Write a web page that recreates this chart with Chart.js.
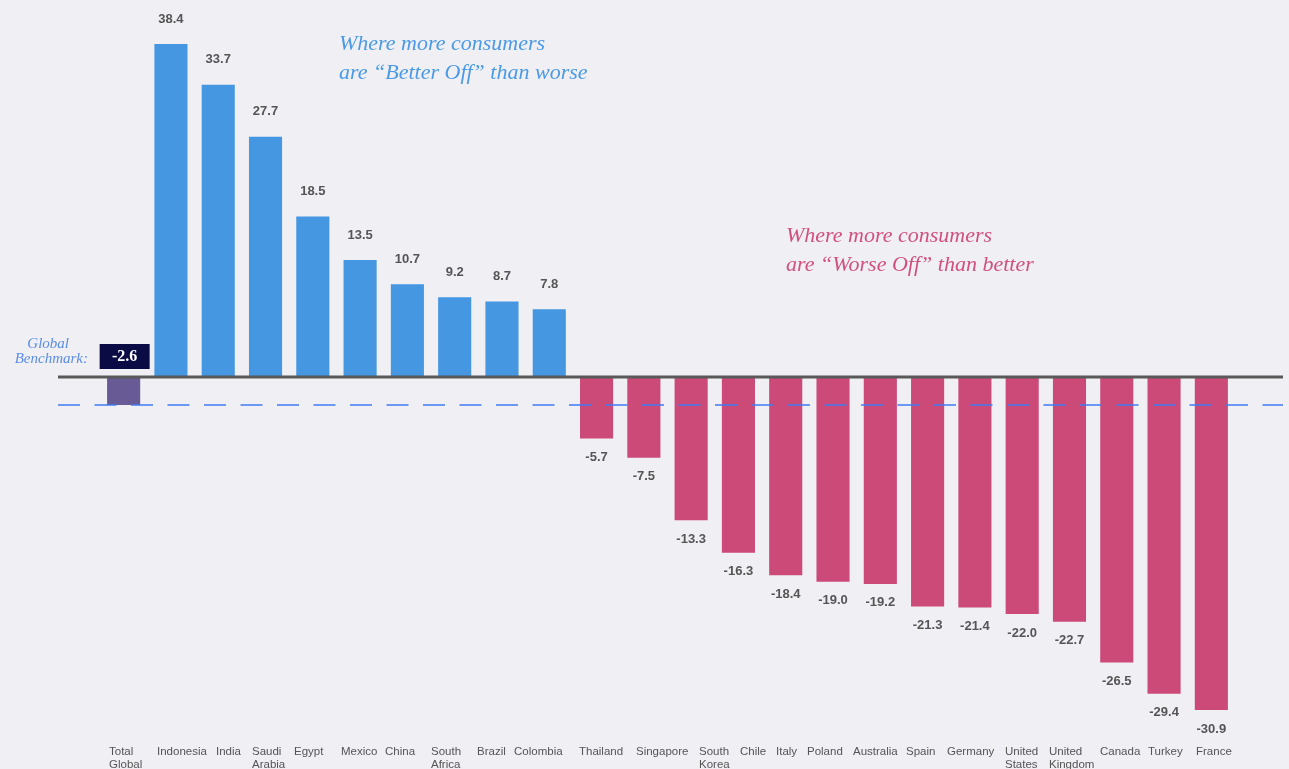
<!DOCTYPE html>
<html>
<head>
<meta charset="utf-8">
<script src="https://cdn.jsdelivr.net/npm/chart.js@4.4.1/dist/chart.umd.min.js"></script>
<style>
  html, body { margin: 0; padding: 0; background: #efeff4; }
  #wrap { width: 1289px; height: 769px; }
</style>
</head>
<body>
<div id="wrap"><canvas id="myChart" width="1289" height="769"></canvas></div>
<script>
// categories, in the order they appear left to right
const globalLabel = ['Total', 'Global'];
const betterOffCountries = ['Indonesia', 'India', ['Saudi', 'Arabia'], 'Egypt', 'Mexico', 'China',
  ['South', 'Africa'], 'Brazil', 'Colombia'];
const worseOffCountries = ['Thailand', 'Singapore', ['South', 'Korea'], 'Chile', 'Italy', 'Poland',
  'Australia', 'Spain', 'Germany', ['United', 'States'], ['United', 'Kingdom'], 'Canada', 'Turkey', 'France'];

// net scores
const globalBenchmark = -2.6;
const betterOffValues = [38.4, 33.7, 27.7, 18.5, 13.5, 10.7, 9.2, 8.7, 7.8];
const worseOffValues = [-5.7, -7.5, -13.3, -16.3, -18.4, -19.0, -19.2, -21.3, -21.4, -22.0, -22.7, -26.5, -29.4, -30.9];

const betterNote = ['Where more consumers', 'are \u201cBetter Off\u201d than worse'];
const worseNote = ['Where more consumers', 'are \u201cWorse Off\u201d than better'];
const benchmarkNote = ['Global', 'Benchmark:'];

// layout only: left edge of each country name under the axis (the source spaces them by hand)
const tickLabelLeft = [109, 157, 216, 252, 294, 341, 385, 431, 477, 514, 579, 636, 699, 740, 776,
  807, 853, 906, 947, 1005, 1049, 1100, 1148, 1196];

const BLUE = '#4597e2';
const RED = '#cb4a78';
const PURPLE = '#675a95';
const SANS = '"Liberation Sans", Arial, sans-serif';
const SERIF = '"Liberation Serif", "Times New Roman", serif';

const labels = [globalLabel, ...betterOffCountries, ...worseOffCountries];
const betterData = [null, ...betterOffValues, ...worseOffValues.map(() => null)];
const worseData = [globalBenchmark, ...betterOffValues.map(() => null), ...worseOffValues];
const worseColors = worseData.map((v, i) => i === 0 ? PURPLE : RED);

const topBetter = Math.max(...betterOffValues);
const bottomWorse = Math.min(...worseOffValues);

const decor = {
  id: 'decor',
  afterDatasetsDraw(chart) {
    const ctx = chart.ctx;
    const xS = chart.scales.x;
    const yB = chart.scales.yBetter;
    const yW = chart.scales.yWorse;
    const zeroY = yB.getPixelForValue(0);
    const benchY = yW.getPixelForValue(globalBenchmark);
    ctx.save();

    // benchmark dashed line
    ctx.strokeStyle = '#3f7cf2';
    ctx.lineWidth = 1.5;
    ctx.setLineDash([22, 14.5]);
    ctx.beginPath();
    ctx.moveTo(58, benchY);
    ctx.lineTo(1283, benchY);
    ctx.stroke();
    ctx.setLineDash([]);

    // zero line
    ctx.strokeStyle = '#595959';
    ctx.lineWidth = 3;
    ctx.beginPath();
    ctx.moveTo(58, zeroY);
    ctx.lineTo(1283, zeroY);
    ctx.stroke();

    // value labels
    ctx.fillStyle = '#555555';
    ctx.font = 'bold 13px ' + SANS;
    ctx.textAlign = 'center';
    ctx.textBaseline = 'middle';
    chart.getDatasetMeta(0).data.forEach((bar, i) => {
      const v = betterData[i];
      if (v === null) return;
      ctx.fillText(v.toFixed(1), bar.x, bar.y - 25);
    });
    chart.getDatasetMeta(1).data.forEach((bar, i) => {
      const v = worseData[i];
      if (v === null || i === 0) return;
      ctx.fillText(v.toFixed(1), bar.x, bar.y + 19);
    });

    // category names, left-aligned text blocks as in the source
    ctx.font = '11.5px ' + SANS;
    ctx.textAlign = 'left';
    const lineH = 13.2;
    labels.forEach((lab, i) => {
      const lines = Array.isArray(lab) ? lab : [lab];
      lines.forEach((t, k) => {
        ctx.fillText(t, tickLabelLeft[i], xS.top + 35 + lineH / 2 + k * lineH);
      });
    });

    // global benchmark box
    const g = chart.getDatasetMeta(1).data[0];
    ctx.textAlign = 'center';
    ctx.fillStyle = '#0a0b45';
    ctx.fillRect(g.x - 24, zeroY - 33, 50, 25);
    ctx.fillStyle = '#ffffff';
    ctx.font = 'bold 16px ' + SERIF;
    ctx.fillText(globalBenchmark.toFixed(1), g.x + 1, zeroY - 20);

    ctx.fillStyle = '#5b8de6';
    ctx.font = 'italic 15px ' + SERIF;
    ctx.textAlign = 'right';
    ctx.fillText(benchmarkNote[0], 69, zeroY - 33);
    ctx.fillText(benchmarkNote[1], 88, zeroY - 18);

    // notes
    ctx.textAlign = 'left';
    ctx.textBaseline = 'alphabetic';
    ctx.font = 'italic 22px ' + SERIF;
    ctx.fillStyle = '#4a9ae5';
    ctx.fillText(betterNote[0], 339, 50);
    ctx.fillText(betterNote[1], 339, 79);
    ctx.fillStyle = '#d2507f';
    ctx.fillText(worseNote[0], 786, 242);
    ctx.fillText(worseNote[1], 786, 271);

    ctx.restore();
  }
};

const myChart = new Chart(document.getElementById('myChart').getContext('2d'), {
  type: 'bar',
  data: {
    labels: labels,
    datasets: [
      {
        label: 'Better off',
        data: betterData,
        yAxisID: 'yBetter',
        backgroundColor: BLUE,
        grouped: false,
        barPercentage: 0.7,
        categoryPercentage: 1
      },
      {
        label: 'Worse off',
        data: worseData,
        yAxisID: 'yWorse',
        backgroundColor: worseColors,
        grouped: false,
        barPercentage: 0.7,
        categoryPercentage: 1
      }
    ]
  },
  options: {
    responsive: false,
    animation: false,
    layout: { padding: { left: 100, right: 54, top: 44, bottom: 0 } },
    plugins: { legend: { display: false }, tooltip: { enabled: false } },
    scales: {
      x: {
        grid: { display: false, drawTicks: false },
        border: { display: false },
        ticks: { display: false },
        afterFit(scale) { scale.height = 59; }
      },
      yBetter: { display: false, min: -topBetter, max: topBetter },
      yWorse: { display: false, min: bottomWorse, max: -bottomWorse }
    }
  },
  plugins: [decor]
});
</script>
</body>
</html>
